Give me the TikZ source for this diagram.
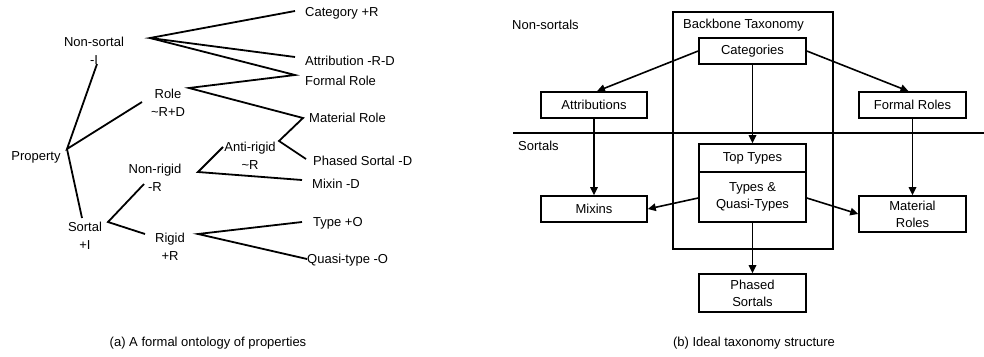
\documentclass[tikz,border=0pt]{standalone}
\usepackage{fontspec}
\setmainfont{Liberation Sans}
\usetikzlibrary{arrows.meta}
\begin{document}
\begin{tikzpicture}[x=1pt,y=-1pt,
  every node/.style={font=\fontsize{13}{18}\selectfont, inner sep=0pt},
  lbl/.style={align=center},
  leaf/.style={anchor=west},
  branch/.style={line width=1.8pt, line join=miter},
  box/.style={draw, line width=1.6pt, align=center, minimum width=107pt,
    font=\fontsize{13}{17}\selectfont},
  link/.style={line width=1.6pt, -{Triangle[length=8pt,width=7.5pt]}}]
\useasboundingbox (0,0) rectangle (984,356);

% ---------- (a) formal ontology of properties ----------
\node[lbl] (prop)    at (36,157)  {Property};
\node[lbl] (nonsort) at (94,51)   {Non-sortal\\-I};
\node[lbl] (role)    at (168,103) {Role\\\textasciitilde R+D};
\node[lbl] (nonrig)  at (155,178) {Non-rigid\\-R};
\node[lbl] (antirig) at (250,156) {Anti-rigid\\\textasciitilde R};
\node[lbl] (sortal)  at (85,236)  {Sortal\\+I};
\node[lbl] (rigid)   at (170,247) {Rigid\\+R};

\node[leaf] (cat)  at (305,13)  {Category +R};
\node[leaf] (att)  at (305,61)  {Attribution -R-D};
\node[leaf] (frm)  at (305,81)  {Formal Role};
\node[leaf] (mat)  at (309,118) {Material Role};
\node[leaf] (phs)  at (313,161) {Phased Sortal -D};
\node[leaf] (mix)  at (312,184) {Mixin -D};
\node[leaf] (typ)  at (313,223) {Type +O};
\node[leaf] (qtyp) at (307,260) {Quasi-type -O};

% branch points and line ends
\coordinate (pV)   at (67,149);
\coordinate (nsE)  at (97,64);
\coordinate (nsV)  at (150,38);
\coordinate (roE)  at (142,102);
\coordinate (roV)  at (189,88);
\coordinate (soE)  at (82,218);
\coordinate (soV)  at (108,222);
\coordinate (nrE)  at (144,184);
\coordinate (nrV)  at (198,172);
\coordinate (arE)  at (223,147);
\coordinate (arV)  at (279,141);
\coordinate (rgE)  at (145,234);
\coordinate (rgV)  at (198,234);
\coordinate (catE) at (295,11);
\coordinate (attE) at (295,57);
\coordinate (frmE) at (295,75);
\coordinate (matE) at (303,118);
\coordinate (phsE) at (306,159);
\coordinate (mixE) at (302,180);
\coordinate (typE) at (302,222);
\coordinate (qtE)  at (307,259);

\draw[branch] (nsE) -- (pV) -- (roE);
\draw[branch] (pV) -- (soE);
\draw[branch] (catE) -- (nsV) -- (attE);
\draw[branch] (nsV) -- (frmE) -- (roV) -- (matE) -- (arV) -- (phsE);
\draw[branch] (arE) -- (nrV) -- (mixE);
\draw[branch] (nrE) -- (soV) -- (rgE);
\draw[branch] (typE) -- (rgV) -- (qtE);

\node (capa) at (208,343) {(a) A formal ontology of properties};

% ---------- (b) ideal taxonomy structure ----------
\node[draw, line width=1.6pt, minimum width=160pt, minimum height=237pt] (bb) at (753,130.5) {};
\node[anchor=west] (bbl) at (683,25) {Backbone Taxonomy};
\node[anchor=west] (nsl) at (512,25) {Non-sortals};
\node[anchor=west] (sol) at (518,146) {Sortals};
\coordinate (divL) at (513,133);
\coordinate (divR) at (984,133);
\draw[line width=1.6pt] (divL) -- (divR);

\node[box, minimum height=26pt] (categ) at (752.5,51)  {Categories};
\node[box, minimum height=26pt, minimum width=106pt] (attr) at (594,105) {Attributions};
\node[box, minimum height=26pt] (frml)  at (912.5,105) {Formal Roles};
\node[box, minimum height=28pt] (top)   at (752.5,158) {Top Types};
\node[box, minimum height=50pt] (types) at (752.5,197) {Types \&\\Quasi-Types};
\node[box, minimum height=26pt, minimum width=106pt] (mixb) at (594,209) {Mixins};
\node[box, minimum height=36pt] (matr)  at (912.5,214) {Material\\Roles};
\node[box, minimum height=38pt] (phase) at (752.5,293) {Phased\\Sortals};

\draw[link] (categ.west) -- ([xshift=3pt]attr.north);
\draw[link] (categ.east) -- ([xshift=-4pt]frml.north);
\draw[link] (categ.south) -- (top.north);
\draw[link] (attr.south) -- (mixb.north);
\draw[link] (frml.south) -- (matr.north);
\draw[link] ([yshift=-1pt]types.west) -- (mixb.east);
\draw[link] ([yshift=-1pt]types.east) -- (matr.west);
\draw[link] (types.south) -- (phase.north);

\node (capb) at (754,343) {(b) Ideal taxonomy structure};
\end{tikzpicture}
\end{document}
